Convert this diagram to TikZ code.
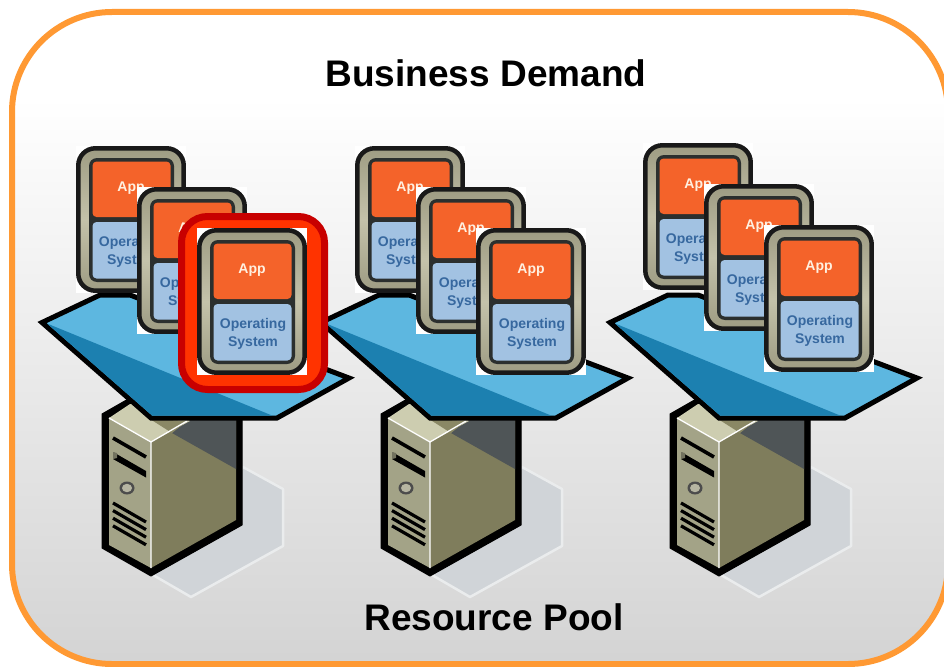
\documentclass[tikz,border=0pt]{standalone}
\usepackage{fontspec}
\setmainfont{Liberation Sans}
\definecolor{frameorange}{HTML}{FF9933}
\definecolor{cardgrey}{HTML}{9E9C83}
\definecolor{cardlight}{HTML}{C4C2AA}
\definecolor{carddark}{HTML}{2B2F2E}
\definecolor{apporange}{HTML}{F4632A}
\definecolor{osblue}{HTML}{A2C2E2}
\definecolor{ostext}{HTML}{37689F}
\definecolor{platlight}{HTML}{5DB7E0}
\definecolor{platdark}{HTML}{1C80B0}
\definecolor{srvfront}{HTML}{A3A387}
\definecolor{srvside}{HTML}{7F7D5C}
\definecolor{srvshadow}{HTML}{4F5557}
\definecolor{srvtop}{HTML}{CDCDB0}
\definecolor{srvtopdark}{HTML}{8A8865}
\definecolor{floorgrey}{HTML}{D0D4D8}
\definecolor{alertred}{HTML}{C80000}
\definecolor{alertfill}{HTML}{FF3300}
\pgfdeclareverticalshading{framefade}{100bp}{color(0bp)=(black!17); color(25bp)=(black!17); color(68.5bp)=(white); color(100bp)=(white)}
\tikzset{
  frame box/.style={draw=frameorange,line width=6pt,rounded corners=100pt,shading=framefade},
  title text/.style={font=\bfseries\fontsize{37}{37}\selectfont,text=black,inner sep=0pt},
  card text/.style={font=\bfseries\fontsize{14}{14}\selectfont,inner sep=0pt},
  slot bar/.style={draw=black,line width=3.6pt}
}
% #1 = name prefix, (#2,#3) = top-left corner of the card
\newcommand{\vmcard}[3]{%
  \begin{scope}[shift={(#2,#3)}]
    \fill[white] (0,0) rectangle (110,147);
    \draw[draw=black!90,line width=4.5pt,rounded corners=17pt,left color=cardgrey,right color=cardgrey,middle color=cardlight,shading angle=0]
      (2.3,2.3) rectangle (107.7,144.7);
    \fill[carddark,rounded corners=8pt] (13,12) rectangle (98,136);
    \fill[apporange,rounded corners=4pt] (16.5,15.5) rectangle (94.5,71);
    \fill[osblue,rounded corners=4pt] (16.5,76) rectangle (94.5,132.5);
    \node[card text,text=white!88!orange] (#1app) at (55,42) {App};
    \node[card text,text=ostext] (#1os) at (56,97) {Operating};
    \node[card text,text=ostext] (#1sys) at (56,115) {System};
  \end{scope}}
% (#1,0) = horizontal shift of a server and its platform
\newcommand{\serverplat}[1]{%
  \begin{scope}[shift={(#1,0)}]
    \fill[floorgrey,draw=white!55!floorgrey,line width=2.5pt,line join=round]
      (243,467) -- (283,489) -- (283,546) -- (191,597) -- (153,575) -- cycle;
    \fill[black,draw=black,line width=1pt,line join=round]
      (102,414) -- (130,398) -- (242,398) -- (242,525) -- (151,576) -- (102,548) -- cycle;
    \fill[srvside] (151,442) -- (187,416) -- (236,416) -- (236,520) -- (151,568) -- cycle;
    \fill[srvshadow] (172,433) -- (187,416) -- (236,416) -- (236,469) -- cycle;
    \fill[srvfront] (109,418) -- (151,442) -- (151,568) -- (109,545) -- cycle;
    \fill[srvtop] (109,418) -- (130,404) -- (160,404) -- (190,421) -- (151,442) -- cycle;
    \fill[srvtopdark] (150,419) -- (187,421) -- (172,433) -- cycle;
    \draw[white,line width=1.3pt] (109,418) -- (151,442) -- (151,568) (151,442) -- (187,421);
    \draw[slot bar] (113,438) -- (146,457);
    \fill[black] (113,452) -- (146,471) -- (146,477.5) -- (113,459) -- cycle;
    \fill[srvfront!70!black] (113,452) -- (117,453) -- (117,458) -- (113,459) -- cycle;
    \fill[black!70] (127,488) ellipse (7.5 and 6.5);
    \fill[cardgrey!75!white] (127,488) ellipse (5 and 4.2);
    \foreach \v in {0,7.6,15.2,22.8}{\draw[slot bar,line width=3.2pt] (113,503+\v) -- (146,522+\v);}
    \fill[platlight,draw=black,line width=5pt,line join=miter]
      (42,322.5) -- (100,295) -- (130,295) -- (349,378) -- (277,418) -- (151,418) -- cycle;
    \fill[platdark] (47,323.5) -- (272,415.5) -- (152,415.5) -- cycle;
  \end{scope}}
\begin{document}
\begin{tikzpicture}[x=1pt,y=-1pt]
  \useasboundingbox (0,0) rectangle (944,666);
  \clip (0,0) rectangle (944,666);
  \path[frame box] (12,12) rectangle (948,664);
  \node[title text] (demand) at (486,73) {Business Demand};
  \node[title text] (pool) at (494,617) {Resource Pool};
  % right-hand groups first: the first group's red highlight lies on top
  \serverplat{568}
  \vmcard{ca}{643}{143}
  \vmcard{cb}{704}{184}
  \vmcard{cc}{764}{225}
  \serverplat{279}
  \vmcard{ba}{355}{146}
  \vmcard{bb}{416}{187}
  \vmcard{bc}{476}{228}
  \serverplat{0}
  \vmcard{aa}{76}{146}
  \vmcard{ab}{137}{187}
  \draw[draw=alertred,fill=alertfill,line width=7pt,rounded corners=26pt] (181.5,216.5) rectangle (324.5,389.5);
  \vmcard{ac}{197}{228}
\end{tikzpicture}
\end{document}
